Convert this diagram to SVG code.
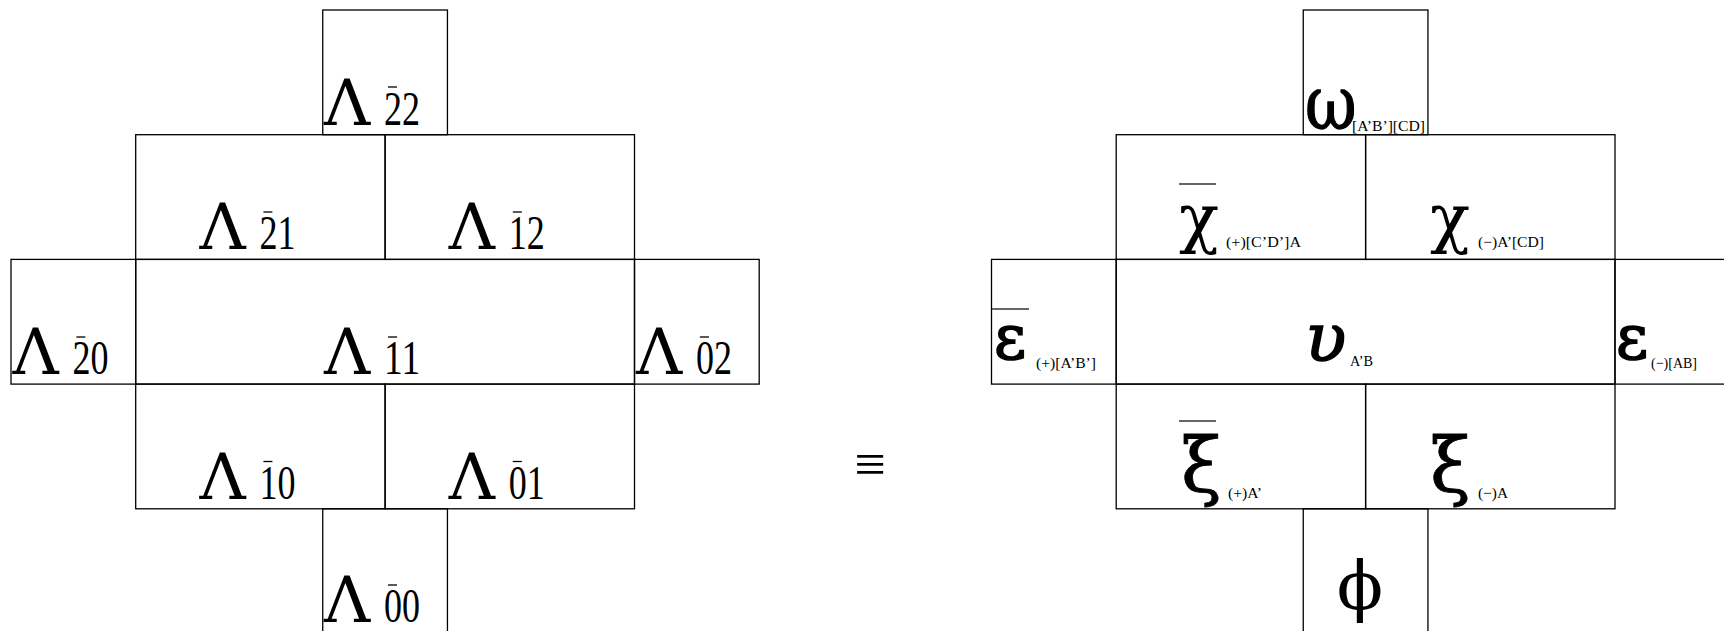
<svg xmlns="http://www.w3.org/2000/svg" width="1724" height="631" viewBox="0 0 1724 631">
<style>
.c{fill:none;stroke:#000;stroke-width:1.3}
.L{font-family:"DejaVu Serif","Liberation Serif",serif;font-size:64px;fill:#000}
.d{font-family:"Liberation Serif","DejaVu Serif",serif;font-size:48px;fill:#000}
.g{font-family:"DejaVu Serif","Liberation Serif",serif;fill:#000}
.s{font-family:"Liberation Serif","DejaVu Serif",serif;font-size:15px;fill:#000}
.b{stroke:#000;stroke-width:1.3}
.bb{stroke:#333;stroke-width:1.5}
</style>
<rect width="1724" height="631" fill="#fff"/>
<g id="left">
<g id="L22"><rect class="c" x="322.75" y="10" width="124.7" height="124.7"/><text class="L" x="324" y="124.7">Λ</text><text class="d" x="384" y="124.7" textLength="36" lengthAdjust="spacingAndGlyphs">22</text><line class="b" x1="388" y1="87" x2="397" y2="87"/></g>
<g id="L21"><rect class="c" x="135.7" y="134.7" width="249.4" height="124.7"/><text class="L" x="199.4" y="249.4">Λ</text><text class="d" x="259.4" y="249.4" textLength="36" lengthAdjust="spacingAndGlyphs">21</text><line class="b" x1="263.4" y1="212" x2="272.4" y2="212"/></g>
<g id="L12"><rect class="c" x="385.1" y="134.7" width="249.4" height="124.7"/><text class="L" x="448.8" y="249.4">Λ</text><text class="d" x="508.8" y="249.4" textLength="36" lengthAdjust="spacingAndGlyphs">12</text><line class="b" x1="512.8" y1="212" x2="521.8" y2="212"/></g>
<g id="L20"><rect class="c" x="11" y="259.4" width="124.7" height="124.7"/><text class="L" x="12.4" y="374.1">Λ</text><text class="d" x="72.4" y="374.1" textLength="36" lengthAdjust="spacingAndGlyphs">20</text><line class="b" x1="76.4" y1="337" x2="85.4" y2="337"/></g>
<g id="L11"><rect class="c" x="135.7" y="259.4" width="498.8" height="124.7"/><text class="L" x="324.1" y="374.1">Λ</text><text class="d" x="384.1" y="374.1" textLength="36" lengthAdjust="spacingAndGlyphs">11</text><line class="b" x1="388.1" y1="337" x2="397.1" y2="337"/></g>
<g id="L02"><rect class="c" x="634.5" y="259.4" width="124.7" height="124.7"/><text class="L" x="635.9" y="374.1">Λ</text><text class="d" x="695.9" y="374.1" textLength="36" lengthAdjust="spacingAndGlyphs">02</text><line class="b" x1="699.9" y1="337" x2="708.9" y2="337"/></g>
<g id="L10"><rect class="c" x="135.7" y="384.1" width="249.4" height="124.7"/><text class="L" x="199.4" y="498.8">Λ</text><text class="d" x="259.4" y="498.8" textLength="36" lengthAdjust="spacingAndGlyphs">10</text><line class="b" x1="263.4" y1="461.5" x2="272.4" y2="461.5"/></g>
<g id="L01"><rect class="c" x="385.1" y="384.1" width="249.4" height="124.7"/><text class="L" x="448.8" y="498.8">Λ</text><text class="d" x="508.8" y="498.8" textLength="36" lengthAdjust="spacingAndGlyphs">01</text><line class="b" x1="512.8" y1="461.5" x2="521.8" y2="461.5"/></g>
<g id="L00"><rect class="c" x="322.75" y="508.8" width="124.7" height="124.7"/><text class="L" x="324" y="622">Λ</text><text class="d" x="384" y="622" textLength="36" lengthAdjust="spacingAndGlyphs">00</text><line class="b" x1="388" y1="585" x2="397" y2="585"/></g>
</g>
<g id="equiv"><text x="870" y="483" font-family="Liberation Serif, serif" font-size="56" text-anchor="middle">≡</text></g>
<g id="right">
<g id="omega"><rect class="c" x="1303.25" y="10" width="124.7" height="124.7"/><text class="g" transform="translate(1305,128.5) scale(0.88,1.05)" font-size="72" stroke="#000" stroke-width="1.2">ω</text><text class="s" x="1352" y="131" font-size="16" textLength="73" lengthAdjust="spacingAndGlyphs">[A’B’][CD]</text></g>
<g id="chibar"><rect class="c" x="1116.2" y="134.7" width="249.4" height="124.7"/><line class="bb" x1="1179" y1="184" x2="1216" y2="184"/><text class="g" x="1179" y="240" font-size="66">χ</text><text class="s" x="1226" y="247" textLength="75" lengthAdjust="spacingAndGlyphs">(+)[C’D’]A</text></g>
<g id="chi"><rect class="c" x="1365.6" y="134.7" width="249.4" height="124.7"/><text class="g" x="1430" y="240" font-size="66">χ</text><text class="s" x="1478" y="247" textLength="66" lengthAdjust="spacingAndGlyphs">(−)A’[CD]</text></g>
<g id="epsbar"><rect class="c" x="991.5" y="259.4" width="124.7" height="124.7"/><line class="bb" x1="992" y1="309" x2="1029" y2="309"/><text class="g" x="994" y="359" font-size="62" stroke="#000" stroke-width="1.6">ε</text><text class="s" x="1036" y="368" font-size="14" textLength="60" lengthAdjust="spacingAndGlyphs">(+)[A’B’]</text></g>
<g id="upsilon"><rect class="c" x="1116.2" y="259.4" width="498.8" height="124.7"/><text class="g" x="1305" y="361" font-size="68" font-style="italic" stroke="#000" stroke-width="1.4">υ</text><text class="s" x="1350" y="366" font-size="14" textLength="23" lengthAdjust="spacingAndGlyphs">A’B</text></g>
<g id="eps"><rect class="c" x="1615" y="259.4" width="124.7" height="124.7"/><text class="g" x="1616" y="359" font-size="62" stroke="#000" stroke-width="1.6">ε</text><text class="s" x="1651" y="368" font-size="14" textLength="46" lengthAdjust="spacingAndGlyphs">(−)[AB]</text></g>
<g id="xibar"><rect class="c" x="1116.2" y="384.1" width="249.4" height="124.7"/><line class="bb" x1="1179" y1="421" x2="1216" y2="421"/><text class="g" x="1181" y="491" font-size="74" stroke="#000" stroke-width="0.8">ξ</text><text class="s" x="1228" y="498" textLength="34" lengthAdjust="spacingAndGlyphs">(+)A’</text></g>
<g id="xi"><rect class="c" x="1365.6" y="384.1" width="249.4" height="124.7"/><text class="g" x="1430" y="491" font-size="74" stroke="#000" stroke-width="0.8">ξ</text><text class="s" x="1478" y="498" textLength="30" lengthAdjust="spacingAndGlyphs">(−)A</text></g>
<g id="phi"><rect class="c" x="1303.25" y="508.8" width="124.7" height="124.7"/><text class="g" x="1360" y="609" font-size="68" text-anchor="middle">ϕ</text></g>
</g>
<g id="connectors"></g>
</svg>
